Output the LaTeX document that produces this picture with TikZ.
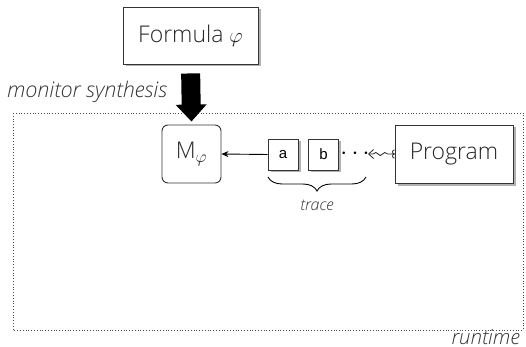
\documentclass[tikz,border=0pt]{standalone}
\usepackage{fontspec}
\setmainfont{Open Sans}[UprightFont=* Light, ItalicFont=* Light Italic]
\newfontfamily\tokfont{Liberation Sans}
\usetikzlibrary{arrows.meta,decorations.pathmorphing,decorations.pathreplacing,shadows}
\tikzset{
  bigbox/.style={draw=black!80, line width=0.9pt, fill=white, drop shadow={shadow xshift=2.5pt, shadow yshift=-2.5pt, fill=black!30, opacity=1}},
  tokbox/.style={draw=black!80, line width=0.9pt, fill=white, minimum width=30pt, minimum height=31pt, inner sep=0pt, font=\fontsize{15}{17}\selectfont\tokfont, drop shadow={shadow xshift=2.5pt, shadow yshift=-2.5pt, fill=black!30, opacity=1}},
  lbl/.style={font=\fontsize{21.5}{23}\selectfont\itshape, text=black!80},
  bigtext/.style={font=\fontsize{23}{25}\selectfont, text=black!85},
}
\begin{document}
\begin{tikzpicture}[x=1pt,y=-1pt]
\useasboundingbox (0,0) rectangle (526,347);
% runtime region
\draw[dotted, line width=0.8pt, black!70] (13,113) rectangle (523,330);
\node[lbl, anchor=base west, inner sep=0pt] (ms) at (7,98) {monitor synthesis};
\node[lbl, font=\fontsize{20.5}{22}\selectfont\itshape, anchor=base east, inner sep=0pt] (rt) at (520,344) {runtime};
% formula
\node[bigbox, bigtext, minimum width=135pt, minimum height=57pt] (formula) at (190.5,35.5) {Formula {\fontsize{20}{22}\selectfont$\varphi$}};
% monitor
\node[draw=black!80, line width=0.9pt, rounded corners=6pt, fill=white, minimum width=59pt, minimum height=58pt, bigtext] (mon) at (191.5,154) {M$_{\varphi}$};
% program
\node[bigbox, bigtext, minimum width=118pt, minimum height=58pt] (prog) at (454,154) {Program};
% tokens
\node[tokbox] (a) at (283,154.5) {a};
\node[tokbox] (b) at (323.5,154.5) {b};
\node[font=\fontsize{24}{26}\selectfont, text=black, inner sep=1pt] (dots) at (355,154) {$\cdots$};
% thick arrow
\draw[line width=19pt, -{Triangle[width=30pt,length=17pt]}, shorten <=9pt, shorten >=3pt] (formula.south) -- (mon.north);
% a -> M
\draw[line width=0.9pt, -{Stealth[length=7pt,width=6pt]}] (a.west) -- (mon.east);
% squiggle
\coordinate (sq) at (368,154);
\draw[line width=0.8pt, black!85, {Straight Barb[length=5pt,width=9pt]}-{Hooks[reversed,length=2.5pt,width=9pt]}, decorate, decoration={snake, amplitude=1.5pt, segment length=9pt, pre length=5pt, post length=3pt}] (sq) -- (prog.west);
% brace
\coordinate (bl) at (268,177);
\coordinate (br) at (366,177);
\draw[line width=0.9pt, decorate, decoration={brace, mirror, amplitude=14pt, aspect=0.5}] (bl) -- (br);
\node[font=\fontsize{16}{18}\selectfont\itshape, text=black!80, anchor=base, inner sep=0pt] (tr) at (317,210) {trace};
\end{tikzpicture}
\end{document}
